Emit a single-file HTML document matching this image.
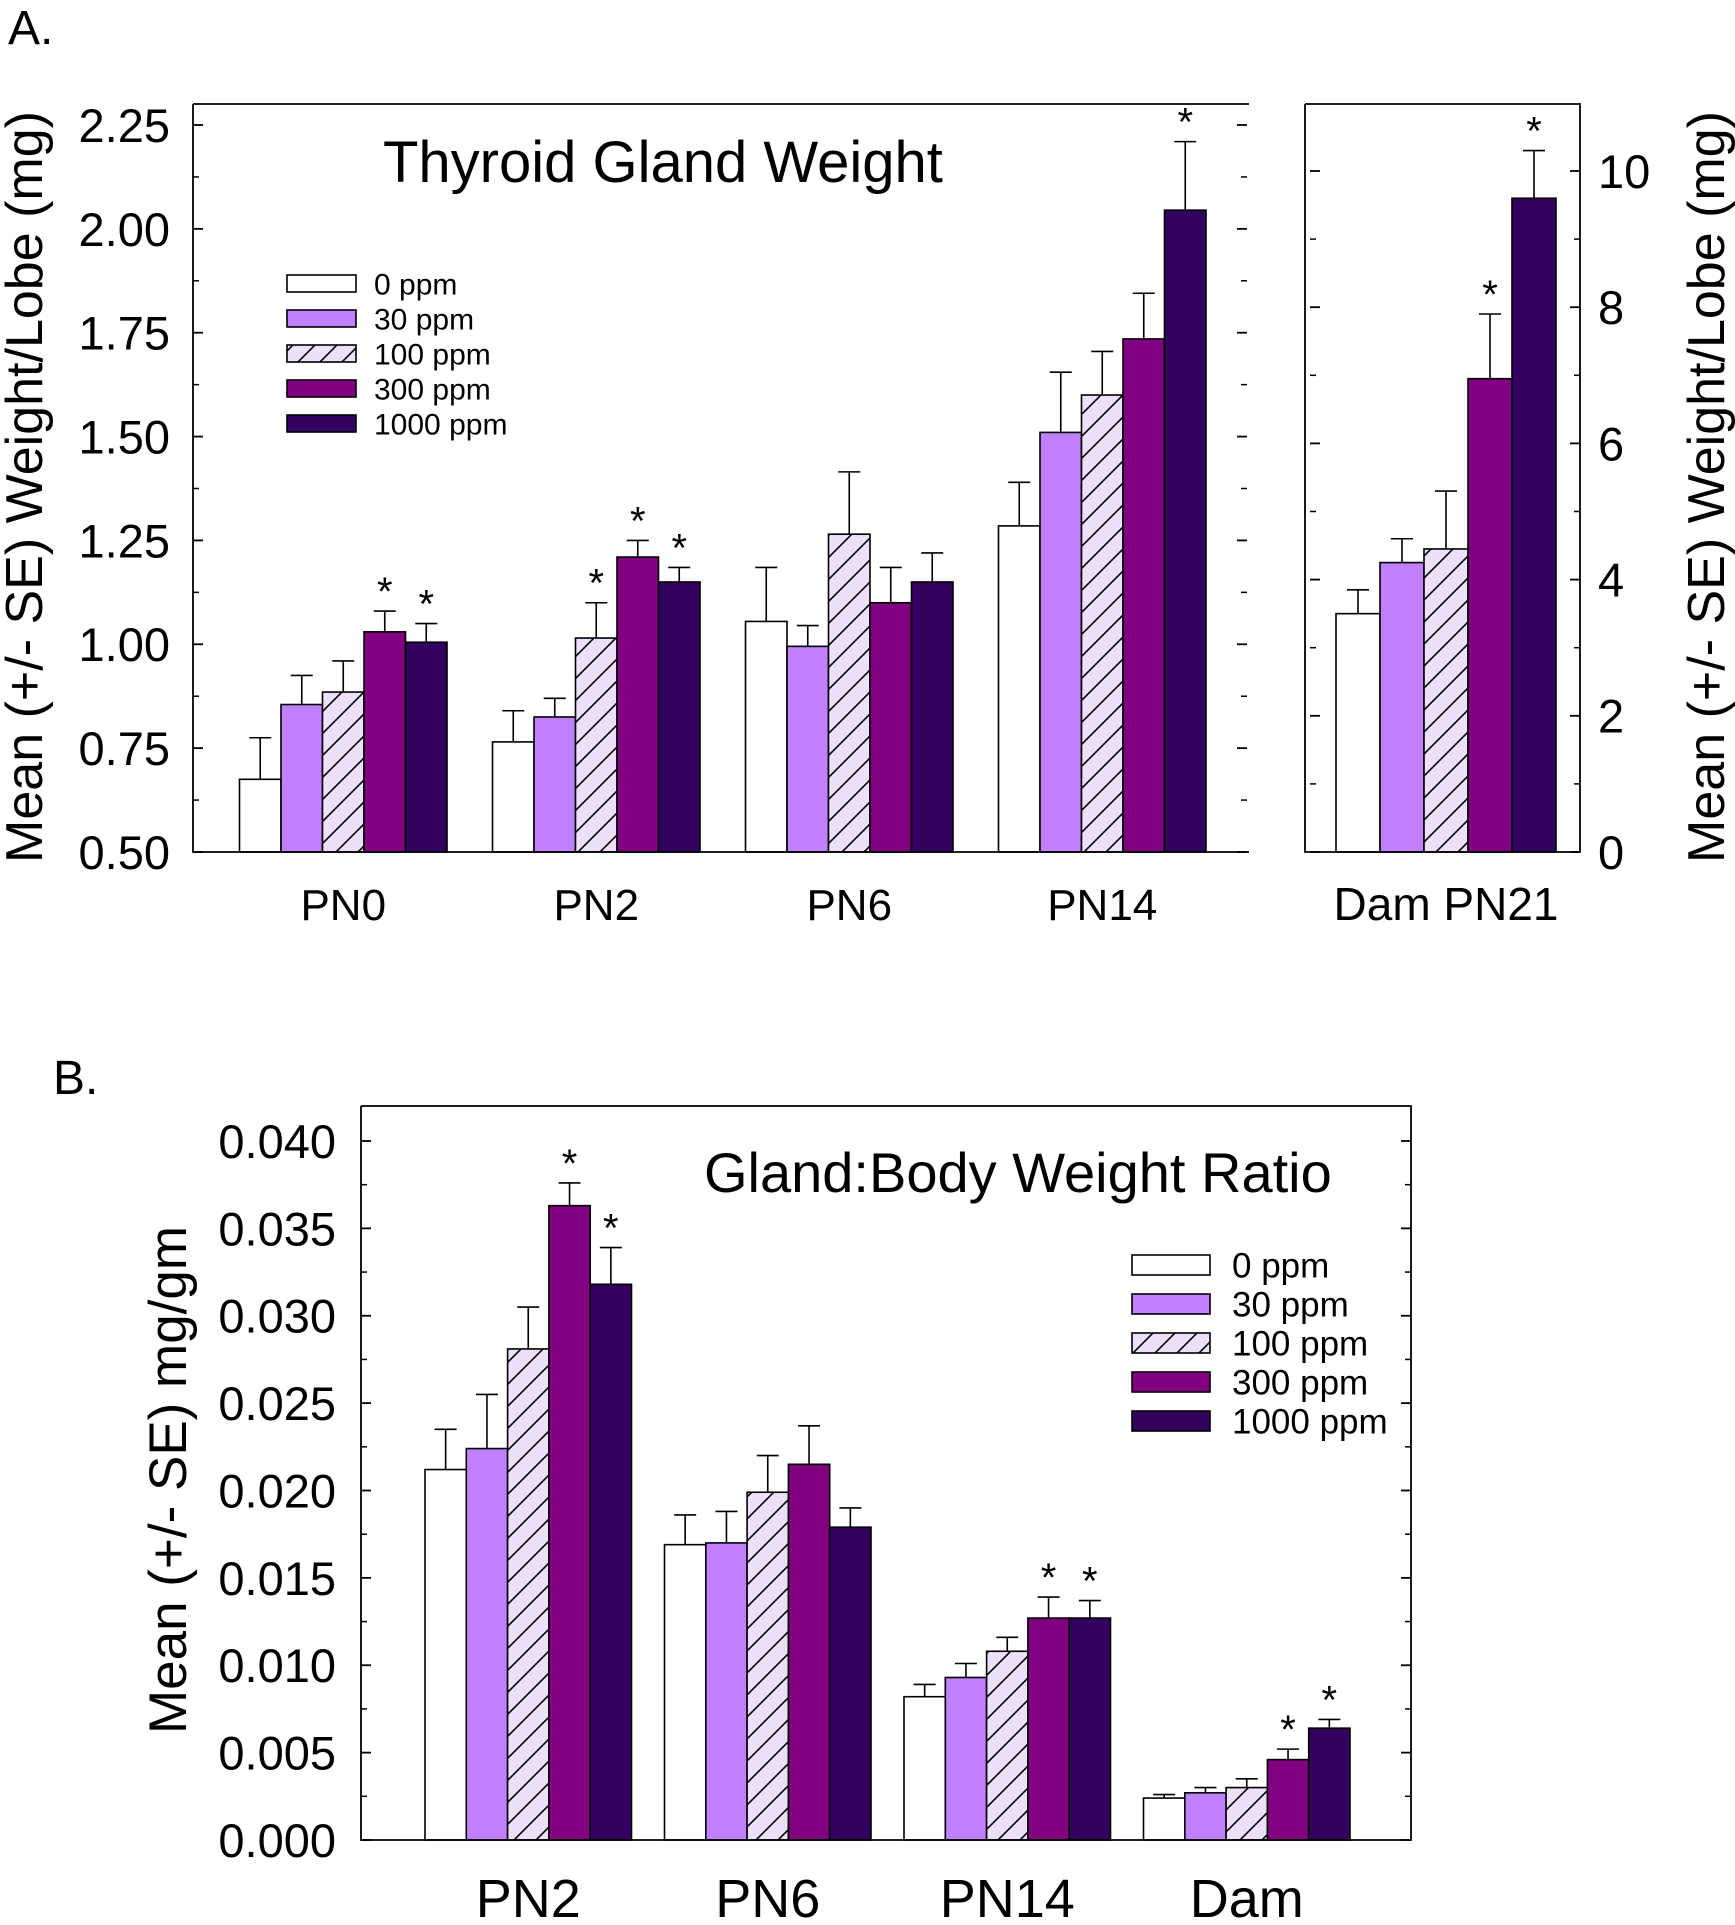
<!DOCTYPE html>
<html><head><meta charset="utf-8"><style>
html,body{margin:0;padding:0;background:#fff}
svg text{font-family:"Liberation Sans",Arial,sans-serif;fill:#000}
</style></head><body>
<svg id="fig" width="1735" height="1920" viewBox="0 0 1735 1920" xmlns="http://www.w3.org/2000/svg">
<defs>
<pattern id="hatch" patternUnits="userSpaceOnUse" width="22" height="22">
<rect width="22" height="22" fill="#ede0fa"/>
<path d="M-2,24 L24,-2 M-13,13 L13,-13 M9,35 L35,9" stroke="#000" stroke-width="1.6"/>
</pattern>
</defs>
<text x="8" y="44" font-size="48">A.</text>
<text x="53" y="1094" font-size="48">B.</text>
<g id="gA"></g>
<g id="gD"></g>
<g id="gB"></g>
</svg>
<script>
const doses = ["0 ppm","30 ppm","100 ppm","300 ppm","1000 ppm"];
const fills = ["#ffffff","#c080ff","url(#hatch)","#800080","#330060"];
// Panel A (pups)
const catsA = ["PN0","PN2","PN6","PN14"];
const meanA = [[0.675,0.855,0.885,1.03,1.005],[0.765,0.825,1.015,1.21,1.15],[1.055,0.995,1.265,1.10,1.15],[1.285,1.51,1.60,1.735,2.045]];
const seA = [[0.10,0.07,0.075,0.05,0.045],[0.075,0.045,0.085,0.04,0.035],[0.13,0.05,0.15,0.085,0.07],[0.105,0.145,0.105,0.11,0.165]];
const starA = [[0,0,0,1,1],[0,0,1,1,1],[0,0,0,0,0],[0,0,0,0,1]];
const ticksA = ["0.50","0.75","1.00","1.25","1.50","1.75","2.00","2.25"];
// Panel A dam
const catsD = ["Dam PN21"];
const meanD = [[3.5,4.25,4.45,6.95,9.6]];
const seD = [[0.35,0.35,0.85,0.95,0.7]];
const starD = [[0,0,0,1,1]];
const ticksD = ["0","2","4","6","8","10"];
// Panel B
const catsB = ["PN2","PN6","PN14","Dam"];
const meanB = [[0.0212,0.0224,0.0281,0.0363,0.0318],[0.0169,0.0170,0.0199,0.0215,0.0179],[0.0082,0.0093,0.0108,0.0127,0.0127],[0.0024,0.0027,0.0030,0.0046,0.0064]];
const seB = [[0.0023,0.0031,0.0024,0.0013,0.0021],[0.0017,0.0018,0.0021,0.0022,0.0011],[0.0007,0.0008,0.0008,0.0012,0.0010],[0.0002,0.0003,0.0005,0.0006,0.0005]];
const starB = [[0,0,0,1,1],[0,0,0,0,0],[0,0,0,1,1],[0,0,0,1,1]];
const ticksB = ["0.000","0.005","0.010","0.015","0.020","0.025","0.030","0.035","0.040"];

const NS="http://www.w3.org/2000/svg";
function mk(g,tag,attrs,txt){const e=document.createElementNS(NS,tag);for(const k in attrs)e.setAttribute(k,attrs[k]);if(txt!==undefined)e.textContent=txt;g.appendChild(e);return e;}

function drawChart(g,o){
  const y=v=>o.y0+(v-o.vmin)/(o.vmax-o.vmin)*(o.y1-o.y0);
  o.means.forEach((grp,gi)=>{
    grp.forEach((v,i)=>{
      const x=o.start+gi*o.spacing+i*o.bw;
      const top=y(v), eb=y(v+o.se[gi][i]);
      let r=mk(g,'rect',{x:x,y:top,width:o.bw,height:o.y0-top,fill:fills[i],stroke:'#000','stroke-width':1.6});
      
      
      let l=mk(g,'path',{d:`M${x+o.bw/2},${top}V${eb}M${x+o.bw/2-11},${eb}H${x+o.bw/2+11}`,stroke:'#000','stroke-width':1.6,fill:'none'});
      
      
      if(o.stars[gi][i]){
        let s=mk(g,'text',{x:x+o.bw/2,y:eb-6,'font-size':o.starSize,'text-anchor':'middle'},'*');
        
        
      }
    });
    let t=mk(g,'text',{x:o.start+gi*o.spacing+o.bw*2.5,y:o.catY,'font-size':o.catSize,'text-anchor':'middle'},o.cats[gi]);
    
    
  });
  mk(g,'path',{d:o.frame,stroke:'#000','stroke-width':1.8,fill:'none'});
  const n=o.ticks.length;
  for(let k=0;k<n;k++){
    const v=parseFloat(o.ticks[k]);const yy=y(v);
    mk(g,'line',{x1:o.axisX,x2:o.axisX+o.tdir*10,y1:yy,y2:yy,stroke:'#000','stroke-width':1.8});
    let t=mk(g,'text',{x:o.labX,y:yy+o.tickSize*0.36,'font-size':o.tickSize,'text-anchor':o.anchor},o.ticks[k]);
    
    
    if(o.mirrorX!==undefined) mk(g,'line',{x1:o.mirrorX,x2:o.mirrorX-o.tdir*10,y1:yy,y2:yy,stroke:'#000','stroke-width':1.8});
    if(k<n-1){
      const ym=y(v+(parseFloat(o.ticks[1])-parseFloat(o.ticks[0]))/2);
      mk(g,'line',{x1:o.axisX,x2:o.axisX+o.tdir*6,y1:ym,y2:ym,stroke:'#000','stroke-width':1.5});
      if(o.mirrorX!==undefined) mk(g,'line',{x1:o.mirrorX,x2:o.mirrorX-o.tdir*6,y1:ym,y2:ym,stroke:'#000','stroke-width':1.5});
    }
  }
}

const gA=document.getElementById('gA');
drawChart(gA,{means:meanA,se:seA,stars:starA,cats:catsA,vmin:0.5,vmax:2.25,y0:852,y1:125,start:239.5,spacing:253,bw:41.5,
  ticks:ticksA,axisX:193,tdir:1,labX:170,anchor:'end',mirrorX:1247,tickSize:47,catSize:44,catY:920,starSize:40,
  frame:'M193,104V852H1249M193,104H1249'});
const gD=document.getElementById('gD');
drawChart(gD,{means:meanD,se:seD,stars:starD,cats:catsD,vmin:0,vmax:10,y0:852,y1:171,start:1336,spacing:0,bw:44,
  ticks:ticksD,axisX:1580,tdir:-1,labX:1598,anchor:'start',mirrorX:1310,tickSize:47,catSize:46,catY:920,starSize:40,
  frame:'M1305,104V852H1580V104H1305'});
const gB=document.getElementById('gB');
drawChart(gB,{means:meanB,se:seB,stars:starB,cats:catsB,vmin:0,vmax:0.04,y0:1840,y1:1141,start:425,spacing:239.5,bw:41.3,
  ticks:ticksB,axisX:361,tdir:1,labX:336,anchor:'end',mirrorX:1411,tickSize:47,catSize:54,catY:1917,starSize:40,
  frame:'M361,1106V1840H1411V1106H361'});

function txt(g,a,s,name){let t=mk(g,'text',a,s);return t;}
txt(gA,{x:383,y:182,'font-size':58},'Thyroid Gland Weight','chart-title-a');
txt(gB,{x:704,y:1192,'font-size':56},'Gland:Body Weight Ratio','chart-title-b');
txt(gA,{x:0,y:0,'font-size':52,'text-anchor':'middle',transform:'translate(42,487) rotate(-90)'},'Mean (+/- SE) Weight/Lobe (mg)','y-axis-title-left');
txt(gD,{x:0,y:0,'font-size':52,'text-anchor':'middle',transform:'translate(1724,487) rotate(-90)'},'Mean (+/- SE) Weight/Lobe (mg)','y-axis-title-right');
txt(gB,{x:0,y:0,'font-size':53,'text-anchor':'middle',transform:'translate(186,1480) rotate(-90)'},'Mean (+/- SE) mg/gm','y-axis-title-b');

function legend(g,x,y,w,h,gap,tx,fs,name){
  doses.forEach((d,i)=>{
    let r=mk(g,'rect',{x:x,y:y+i*gap,width:w,height:h,fill:fills[i],stroke:'#000','stroke-width':1.6});
    
    
    let t=mk(g,'text',{x:tx,y:y+i*gap+h/2+fs*0.36,'font-size':fs},d);
    
    
  });
}
legend(gA,287,275,69,17,35,374,30,'legend-a');
legend(gB,1132,1255,78,20,39,1232,35,'legend-b');
</script>
</body></html>
